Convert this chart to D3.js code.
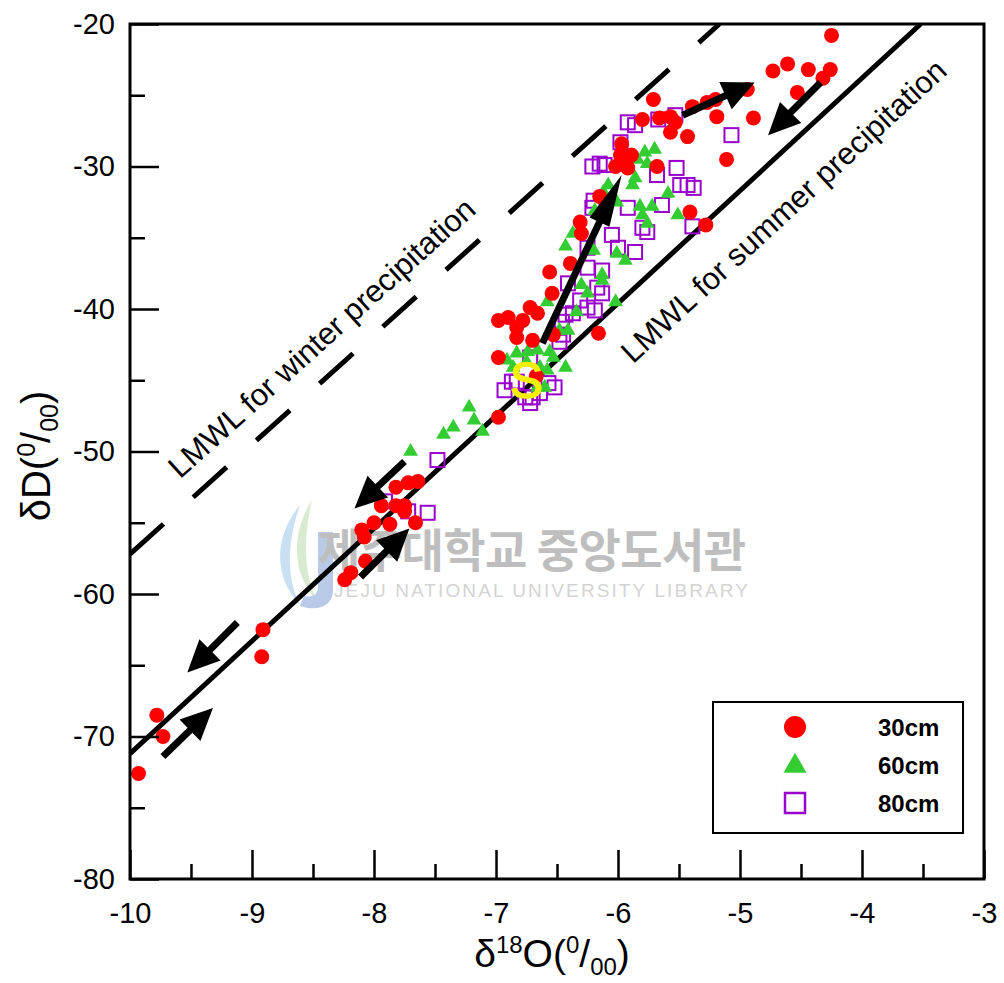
<!DOCTYPE html>
<html>
<head>
<meta charset="utf-8">
<script src="https://cdn.jsdelivr.net/npm/d3@7"></script>
<style>
  body { margin: 0; background: #fff; }
  svg { display: block; }
  text { font-family: Arial, "Liberation Sans", sans-serif; }
</style>
</head>
<body>
<svg id="chart" width="1004" height="983"></svg>
<script>
// δ18O, δD pairs
const soil30 = [
  [-9.93,-72.6],[-9.78,-68.5],[-9.73,-70.0],[-8.91,-62.5],[-8.92,-64.4],
  [-7.64,-52.1],[-7.72,-52.2],[-7.82,-52.5],[-7.94,-53.8],[-7.82,-53.8],
  [-7.75,-53.8],[-7.75,-54.2],[-7.87,-55.1],[-8.00,-55.0],[-7.66,-55.0],
  [-8.10,-55.5],[-8.08,-56.0],[-8.07,-57.7],[-8.19,-58.5],[-8.24,-59.0],
  [-6.98,-47.6],[-6.98,-43.4],[-6.98,-40.8],[-6.90,-40.6],[-6.83,-41.3],
  [-6.78,-40.8],[-6.72,-39.9],[-6.66,-40.3],[-6.83,-42.0],[-6.70,-42.2],
  [-6.53,-41.8],[-6.67,-44.7],[-6.56,-37.4],[-6.54,-38.9],[-6.39,-36.8],
  [-6.16,-41.7],[-6.31,-33.9],[-6.30,-34.7],[-6.15,-32.1],[-5.97,-28.4],
  [-5.98,-29.2],[-5.89,-29.2],[-6.02,-30.0],[-5.92,-30.1],[-5.96,-29.6],
  [-5.68,-30.0],[-5.41,-33.2],[-5.28,-34.1],[-5.80,-26.7],[-5.71,-25.3],
  [-5.66,-26.6],[-5.57,-26.5],[-5.53,-26.9],[-5.57,-27.6],[-5.43,-27.9],
  [-5.19,-26.5],[-5.39,-25.8],[-5.27,-25.5],[-5.20,-25.3],[-4.94,-24.6],
  [-4.89,-26.6],[-4.73,-23.3],[-4.61,-22.8],[-4.44,-23.2],[-4.26,-23.2],
  [-4.32,-23.8],[-4.53,-24.8],[-4.25,-20.8],[-5.11,-29.5]
];
const soil60 = [
  [-7.22,-46.9],[-7.18,-47.8],[-7.35,-48.3],[-7.43,-48.8],[-7.11,-48.6],
  [-7.70,-50.0],[-6.91,-43.6],[-6.83,-43.1],[-6.74,-43.0],[-6.66,-42.9],
  [-6.56,-43.0],[-6.53,-43.4],[-6.86,-44.1],[-6.58,-44.3],[-6.43,-44.1],
  [-6.66,-45.5],[-6.60,-45.5],[-6.58,-39.5],[-6.48,-41.5],[-6.41,-41.5],
  [-6.34,-40.2],[-6.30,-38.3],[-6.25,-38.9],[-6.13,-38.0],[-6.02,-39.5],
  [-5.94,-36.6],[-6.20,-35.9],[-6.01,-36.1],[-6.75,-43.7],[-6.64,-44.1],
  [-5.78,-29.0],[-5.70,-28.8],[-5.76,-29.8],[-5.84,-29.5],[-5.86,-30.8],
  [-5.88,-31.3],[-6.08,-31.3],[-6.12,-31.8],[-6.01,-32.5],[-5.59,-31.9],
  [-5.82,-32.8],[-5.72,-32.8],[-5.80,-33.4],[-5.76,-34.0],[-5.51,-33.4],
  [-6.43,-35.6],[-6.19,-33.1],[-6.37,-34.7],[-6.13,-37.6]
];
const soil80 = [
  [-6.41,-38.2],[-6.25,-37.1],[-6.13,-37.3],[-6.17,-38.5],[-6.13,-38.9],
  [-6.25,-39.9],[-6.19,-40.1],[-6.37,-40.3],[-6.43,-40.4],[-6.46,-40.9],
  [-6.45,-41.8],[-6.48,-42.3],[-6.31,-39.4],[-6.72,-43.4],[-6.93,-45.7],
  [-6.87,-45.1],[-6.76,-46.2],[-6.70,-46.2],[-6.64,-45.9],[-6.52,-45.5],
  [-6.72,-46.6],[-6.57,-45.2],[-6.83,-45.1],[-5.92,-26.9],[-5.86,-27.1],
  [-5.98,-28.3],[-6.21,-30.0],[-6.11,-29.9],[-6.15,-29.8],[-5.68,-30.6],
  [-5.52,-30.1],[-5.49,-31.3],[-5.43,-31.3],[-5.38,-31.5],[-5.64,-32.7],
  [-5.92,-32.9],[-5.80,-34.3],[-5.76,-34.6],[-6.05,-34.8],[-6.00,-35.7],
  [-5.86,-36.0],[-6.20,-32.4],[-6.21,-32.9],[-6.25,-35.7],[-5.67,-26.7],
  [-5.53,-26.4],[-5.07,-27.8],[-5.39,-34.2],[-7.48,-50.6],[-7.91,-53.5],
  [-7.72,-54.2],[-7.56,-54.3]
];

// meteoric water lines: slope, intercept
const lmwlSummer = [7.9, 7.8];
const lmwlWinter = [7.7, 19.8];

// arrows: [tail, tip]
const arrows = [
  [[-9.73,-71.4],[-9.32,-68.0]],
  [[-9.12,-62.0],[-9.53,-65.5]],
  [[-8.11,-58.8],[-7.71,-55.4]],
  [[-7.75,-50.7],[-8.16,-54.0]],
  [[-6.62,-42.4],[-5.97,-30.6]],
  [[-5.47,-26.4],[-4.88,-24.1]],
  [[-4.34,-24.1],[-4.77,-27.8]]
];

const xMajor = d3.range(-10, -2.5, 1);
const xMinor = d3.range(-9.5, -3, 1);
const yMajor = d3.range(-80, -15, 10);
const yMinor = d3.range(-75, -20, 10);
const legendItems = ["30cm", "60cm", "80cm"];

const svg = d3.select("#chart");
const x = d3.scaleLinear().domain([-10, -3]).range([130, 984]);
const y = d3.scaleLinear().domain([-80, -20]).range([879, 24]);

svg.append("clipPath").attr("id", "plot")
  .append("rect").attr("x", 130).attr("y", 24).attr("width", 854).attr("height", 855);

// watermark
const wm = svg.append("g").attr("opacity", 0.55);
wm.append("path")
  .attr("d", "M300,505 C275,535 272,575 300,605 C285,575 288,540 300,505Z")
  .attr("fill", "#9cc8e8");
wm.append("path")
  .attr("d", "M312,500 C290,535 292,575 318,602 C302,572 304,535 312,500Z")
  .attr("fill", "#b9d9a8");
wm.append("path")
  .attr("d", "M318,532 L333,532 L333,590 C333,606 318,612 300,606 L304,596 C314,598 318,594 318,586Z")
  .attr("fill", "#7f9fd6");
wm.append("text").attr("x", 318).attr("y", 567)
  .style("font-family", "'Noto Sans CJK KR', sans-serif")
  .attr("font-size", 46).attr("font-weight", "bold").attr("fill", "#8a8a8a")
  .attr("textLength", 428)
  .text("제주대학교 중앙도서관");
wm.append("text").attr("x", 334).attr("y", 597)
  .attr("font-size", 19).attr("fill", "#b0b0b0")
  .attr("textLength", 414)
  .text("JEJU NATIONAL UNIVERSITY LIBRARY");

// LMWL lines
function lineEnds([m, b]) {
  const x1 = -10, x2 = (-20 - b) / m;
  return [[x1, m * x1 + b], [x2, -20]];
}
const lines = svg.append("g").attr("clip-path", "url(#plot)");
[[lmwlSummer, null], [lmwlWinter, "45,40"]].forEach(([p, dash]) => {
  const e = lineEnds(p);
  lines.append("line")
    .attr("x1", x(e[0][0])).attr("y1", y(e[0][1]))
    .attr("x2", x(e[1][0])).attr("y2", y(e[1][1]))
    .attr("stroke", "#000").attr("stroke-width", 5)
    .attr("stroke-dasharray", dash);
});

// points
const pts = svg.append("g");
pts.selectAll("rect.s80").data(soil80).join("rect")
  .attr("x", d => x(d[0]) - 7).attr("y", d => y(d[1]) - 7)
  .attr("width", 14).attr("height", 14)
  .attr("fill", "none").attr("stroke", "#9900cc").attr("stroke-width", 2);
const tri = d3.symbol(d3.symbolTriangle, 95);
pts.selectAll("path.s60").data(soil60).join("path")
  .attr("transform", d => `translate(${x(d[0])},${y(d[1])})`)
  .attr("d", tri).attr("fill", "#33cc33");
pts.selectAll("circle.s30").data(soil30).join("circle")
  .attr("cx", d => x(d[0])).attr("cy", d => y(d[1])).attr("r", 7.5)
  .attr("fill", "#ff0000");

// arrows
const arr = svg.append("g");
arrows.forEach(([t, h], i) => {
  const x1 = x(t[0]), y1 = y(t[1]), x2 = x(h[0]), y2 = y(h[1]);
  const len = Math.hypot(x2 - x1, y2 - y1);
  const ux = (x2 - x1) / len, uy = (y2 - y1) / len;
  const hl = i === 4 ? 52 : 32, hw = i === 4 ? 22 : 30;
  const bx = x2 - ux * hl, by = y2 - uy * hl;
  arr.append("line")
    .attr("x1", x1).attr("y1", y1).attr("x2", bx + ux * 4).attr("y2", by + uy * 4)
    .attr("stroke", "#000").attr("stroke-width", 7);
  arr.append("path")
    .attr("d", `M${x2},${y2}L${bx - uy * hw / 2},${by + ux * hw / 2}L${bx + uy * hw / 2},${by - ux * hw / 2}Z`)
    .attr("fill", "#000");
});

// S marker
svg.append("text")
  .attr("x", x(-6.75)).attr("y", y(-45.0)).attr("dy", "0.36em")
  .attr("text-anchor", "middle").attr("font-size", 50)
  .attr("fill", "#f5f000").attr("stroke", "#f5f000").attr("stroke-width", 1.5)
  .text("S");

// line labels
function lineLabel(px, p, off, txt) {
  const [m, b] = p;
  const cx = x(px), cy = y(m * px + b);
  const ang = Math.atan2(y(m * (px + 1) + b) - cy, x(px + 1) - cx) * 180 / Math.PI;
  svg.append("text")
    .attr("transform", `translate(${cx},${cy}) rotate(${ang}) translate(0,${off})`)
    .attr("text-anchor", "middle").attr("font-size", 31)
    .text(txt);
}
lineLabel(-8.25, lmwlWinter, -22, "LMWL for winter precipitation");
lineLabel(-4.89, lmwlSummer, 55, "LMWL for summer precipitation");

// axes
function styleAxis(g) {
  g.select(".domain").remove();
  g.selectAll(".tick line").attr("stroke", "#000").attr("stroke-width", 2.5);
  g.selectAll("text").attr("font-size", 29).attr("fill", "#000");
}
svg.append("g").attr("transform", "translate(0,879)")
  .call(d3.axisBottom(x).tickValues(xMajor).tickSize(-29).tickPadding(23).tickFormat(d3.format("d")))
  .call(styleAxis);
svg.append("g").attr("transform", "translate(0,879)")
  .call(d3.axisBottom(x).tickValues(xMinor).tickSize(-15).tickFormat(""))
  .call(styleAxis);
svg.append("g").attr("transform", "translate(130,0)")
  .call(d3.axisLeft(y).tickValues(yMajor).tickSize(-29).tickPadding(15).tickFormat(d3.format("d")))
  .call(styleAxis);
svg.append("g").attr("transform", "translate(130,0)")
  .call(d3.axisLeft(y).tickValues(yMinor).tickSize(-15).tickFormat(""))
  .call(styleAxis);
svg.selectAll(".tick text").text(function () { return this.textContent.replace("−", "-"); });

svg.append("rect").attr("x", 130).attr("y", 24).attr("width", 854).attr("height", 855)
  .attr("fill", "none").attr("stroke", "#000").attr("stroke-width", 3);

// axis titles
const xt = svg.append("text").attr("x", 552).attr("y", 967)
  .attr("text-anchor", "middle").attr("font-size", 39);
xt.append("tspan").text("δ");
xt.append("tspan").attr("font-size", 24).attr("dy", -14).text("18");
xt.append("tspan").attr("dy", 14).text("O(");
xt.append("tspan").attr("font-size", 24).attr("dy", -14).text("0");
xt.append("tspan").attr("dy", 14).text("/");
xt.append("tspan").attr("font-size", 24).attr("dy", 8).text("00");
xt.append("tspan").attr("dy", -8).text(")");

const yt = svg.append("text")
  .attr("transform", "translate(50,456) rotate(-90)")
  .attr("text-anchor", "middle").attr("font-size", 40);
yt.append("tspan").text("δD(");
yt.append("tspan").attr("font-size", 25).attr("dy", -15).text("0");
yt.append("tspan").attr("dy", 15).text("/");
yt.append("tspan").attr("font-size", 25).attr("dy", 8).text("00");
yt.append("tspan").attr("dy", -8).text(")");

// legend
const lg = svg.append("g");
lg.append("rect").attr("x", 713).attr("y", 702).attr("width", 250).attr("height", 131)
  .attr("fill", "#fff").attr("stroke", "#000").attr("stroke-width", 2);
const rowY = [727, 765, 803];
lg.append("circle").attr("cx", 795).attr("cy", rowY[0]).attr("r", 11).attr("fill", "#ff0000");
lg.append("path").attr("transform", `translate(795,${rowY[1] + 1})`)
  .attr("d", d3.symbol(d3.symbolTriangle, 230)).attr("fill", "#33cc33");
lg.append("rect").attr("x", 785).attr("y", rowY[2] - 10).attr("width", 20).attr("height", 20)
  .attr("fill", "none").attr("stroke", "#9900cc").attr("stroke-width", 2.5);
lg.selectAll("text.lab").data(legendItems).join("text")
  .attr("x", 878).attr("y", (d, i) => rowY[i] + 9)
  .attr("font-size", 24).attr("font-weight", "bold").text(d => d);
</script>
</body>
</html>
